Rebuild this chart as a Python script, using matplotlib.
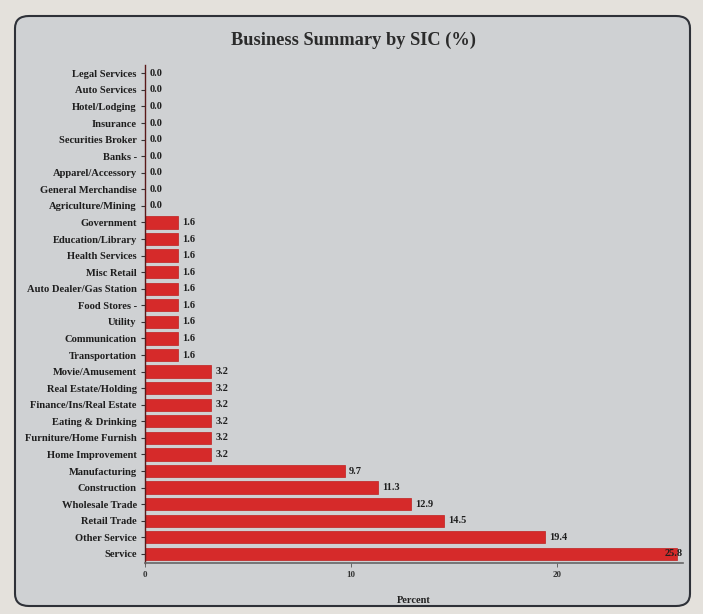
import matplotlib
matplotlib.use("Agg")
import matplotlib.pyplot as plt
from matplotlib.patches import FancyBboxPatch

categories = [
    "Service", "Other Service", "Retail Trade", "Wholesale Trade", "Construction",
    "Manufacturing", "Home Improvement", "Furniture/Home Furnish", "Eating & Drinking",
    "Finance/Ins/Real Estate", "Real Estate/Holding", "Movie/Amusement",
    "Transportation", "Communication", "Utility", "Food Stores -",
    "Auto Dealer/Gas Station", "Misc Retail", "Health Services", "Education/Library",
    "Government", "Agriculture/Mining", "General Merchandise", "Apparel/Accessory",
    "Banks -", "Securities Broker", "Insurance", "Hotel/Lodging", "Auto Services",
    "Legal Services",
]
values = [
    25.8, 19.4, 14.5, 12.9, 11.3, 9.7, 3.2, 3.2, 3.2, 3.2, 3.2, 3.2,
    1.6, 1.6, 1.6, 1.6, 1.6, 1.6, 1.6, 1.6, 1.6,
    0.0, 0.0, 0.0, 0.0, 0.0, 0.0, 0.0, 0.0, 0.0,
]
xticks = [0, 10, 20]

plt.rcParams['font.family'] = ['Liberation Serif', 'DejaVu Serif']

fig = plt.figure(figsize=(7.03, 6.14), dpi=100)
fig.patch.set_facecolor("#e4e1dc")

card = FancyBboxPatch((15 / 703, 8 / 614), 675 / 703, 590 / 614,
                      boxstyle="round,pad=0,rounding_size=0.02",
                      transform=fig.transFigure, facecolor="#cfd1d3",
                      edgecolor="#2e3138", linewidth=1.5, zorder=-10)
fig.patches.append(card)

ax = fig.add_axes([145 / 703, 51 / 614, 538 / 703, 498 / 614])
ax.set_facecolor("none")
ax.set_zorder(5)

y = list(range(len(categories)))
ax.barh(y, values, height=0.74, color="#d62a2a", edgecolor="#c01f1f", linewidth=0.5, zorder=2)

xmax = 26.1
ax.set_xlim(0, xmax)
ax.set_ylim(-0.55, len(categories) - 0.5)

for yi, v in zip(y, values):
    if v + 1.2 > xmax:
        ax.text(xmax, yi, f"{v:.1f}", ha="right", va="center", fontsize=7.5,
                fontweight="bold", color="#1e1e1e", zorder=3)
    else:
        ax.annotate(f"{v:.1f}", (v, yi), xytext=(3, 0), textcoords="offset points",
                    ha="left", va="center", fontsize=7.5, fontweight="bold",
                    color="#1e1e1e", zorder=3)

ax.set_yticks(y)
ax.set_yticklabels(categories, fontsize=7.6, fontweight="bold", color="#1e1e1e")
ax.set_xticks(xticks)
ax.set_xticklabels([str(t) for t in xticks], fontsize=6.5, fontweight="bold", color="#333333")
ax.tick_params(axis="y", length=3, width=0.8, color="#333333", pad=3)
ax.tick_params(axis="x", length=3, width=0.6, color="#555555", pad=3)

for s in ["top", "right"]:
    ax.spines[s].set_visible(False)
ax.spines["left"].set_color("#5a1a1a")
ax.spines["left"].set_linewidth(1.0)
ax.spines["bottom"].set_color("#666666")
ax.spines["bottom"].set_linewidth(1.2)

ax.set_xlabel("Percent", fontsize=7.5, fontweight="bold", color="#222222", labelpad=12)

fig.text(353 / 703, 1 - 40 / 614, "Business Summary by SIC (%)", ha="center", va="center",
         fontsize=13.2, fontweight="bold", color="#2b2b2b")

fig.savefig("out.png", dpi=100, facecolor=fig.get_facecolor())
